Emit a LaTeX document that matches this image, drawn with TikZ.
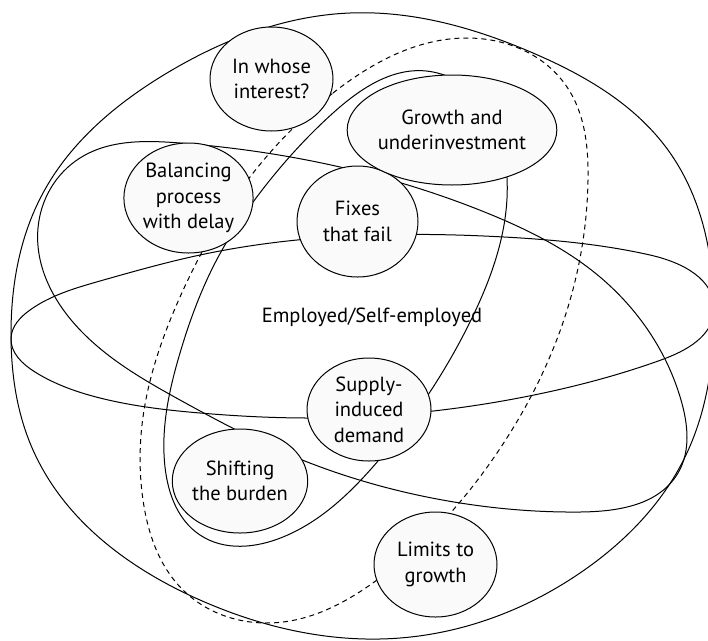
\documentclass[tikz,border=0pt]{standalone}
\usepackage{fontspec}
\setmainfont{PT Sans}
\usetikzlibrary{shapes.geometric,hobby}

\begin{document}
\begin{tikzpicture}[x=1pt,y=-1pt,
    archetype/.style={ellipse, draw, line width=1pt, fill=black!2, align=center,
      inner sep=0pt, font=\fontsize{20.5}{25.5}\selectfont},
    loopline/.style={line width=1pt, use Hobby shortcut, closed=true},
  ]
    \useasboundingbox (0,0) rectangle (708,640);

    % outer sphere
    \draw[loopline] (350,13) .. (533,53) .. (668,150) .. (714,322)
      .. (685,457) .. (580,573) .. (400,638) .. (200,600)
      .. (33,450) .. (11,333) .. (43,193) .. (167,73);

    % dashed loop
    \draw[loopline, dash pattern=on 5pt off 4pt] (333,93) .. (467,38) .. (567,87)
      .. (588,180) .. (568,307) .. (497,453) .. (377,580) .. (283,622)
      .. (183,590) .. (143,500) .. (143,417) .. (180,297) .. (250,177);

    % tilted loop
    \draw[loopline] (180,143) .. (340,167) .. (487,213) .. (600,277)
      .. (681,400) .. (678,473) .. (580,512) .. (454,502) .. (290,455)
      .. (180,400) .. (83,333) .. (38,228) .. (80,158);

    % wide loop
    \draw[loopline] (297,240) .. (504,237) .. (650,255) .. (714,310)
      .. (661,360) .. (534,395) .. (307,418) .. (200,413) .. (100,398)
      .. (35,372) .. (11,338) .. (30,310) .. (100,281) .. (200,255);

    % growth loop
    \draw[loopline] (333,113) .. (433,72) .. (507,178) .. (471,320)
      .. (378,461) .. (283,537) .. (200,535) .. (165,467) .. (180,353)
      .. (213,267) .. (270,180);

    \node[archetype, minimum width=123pt, minimum height=104pt] (whose) at (271.5,79) {In whose\\interest?};
    \node[archetype, minimum width=121pt, minimum height=110pt] (balancing) at (188.5,198) {Balancing\\process\\with delay};
    \node[archetype, minimum width=121pt, minimum height=111pt] (fixes) at (357.5,221.5) {Fixes\\that fail};
    \node[archetype, minimum width=169pt, minimum height=110pt] (growth) at (452,130) {Growth and\\underinvestment};
    \node[archetype, minimum width=124pt, minimum height=103pt] (supply) at (369,409.5) {Supply-\\induced\\demand};
    \node[archetype, minimum width=120pt, minimum height=104pt] (shifting) at (240,481) {Shifting\\the burden};
    \node[archetype, minimum width=123pt, minimum height=105pt] (limits) at (435.5,564.5) {Limits to\\growth};

    \node[anchor=base, font=\fontsize{20.5}{25.5}\selectfont] (employed) at (372,322) {Employed/Self-employed};
\end{tikzpicture}
\end{document}
